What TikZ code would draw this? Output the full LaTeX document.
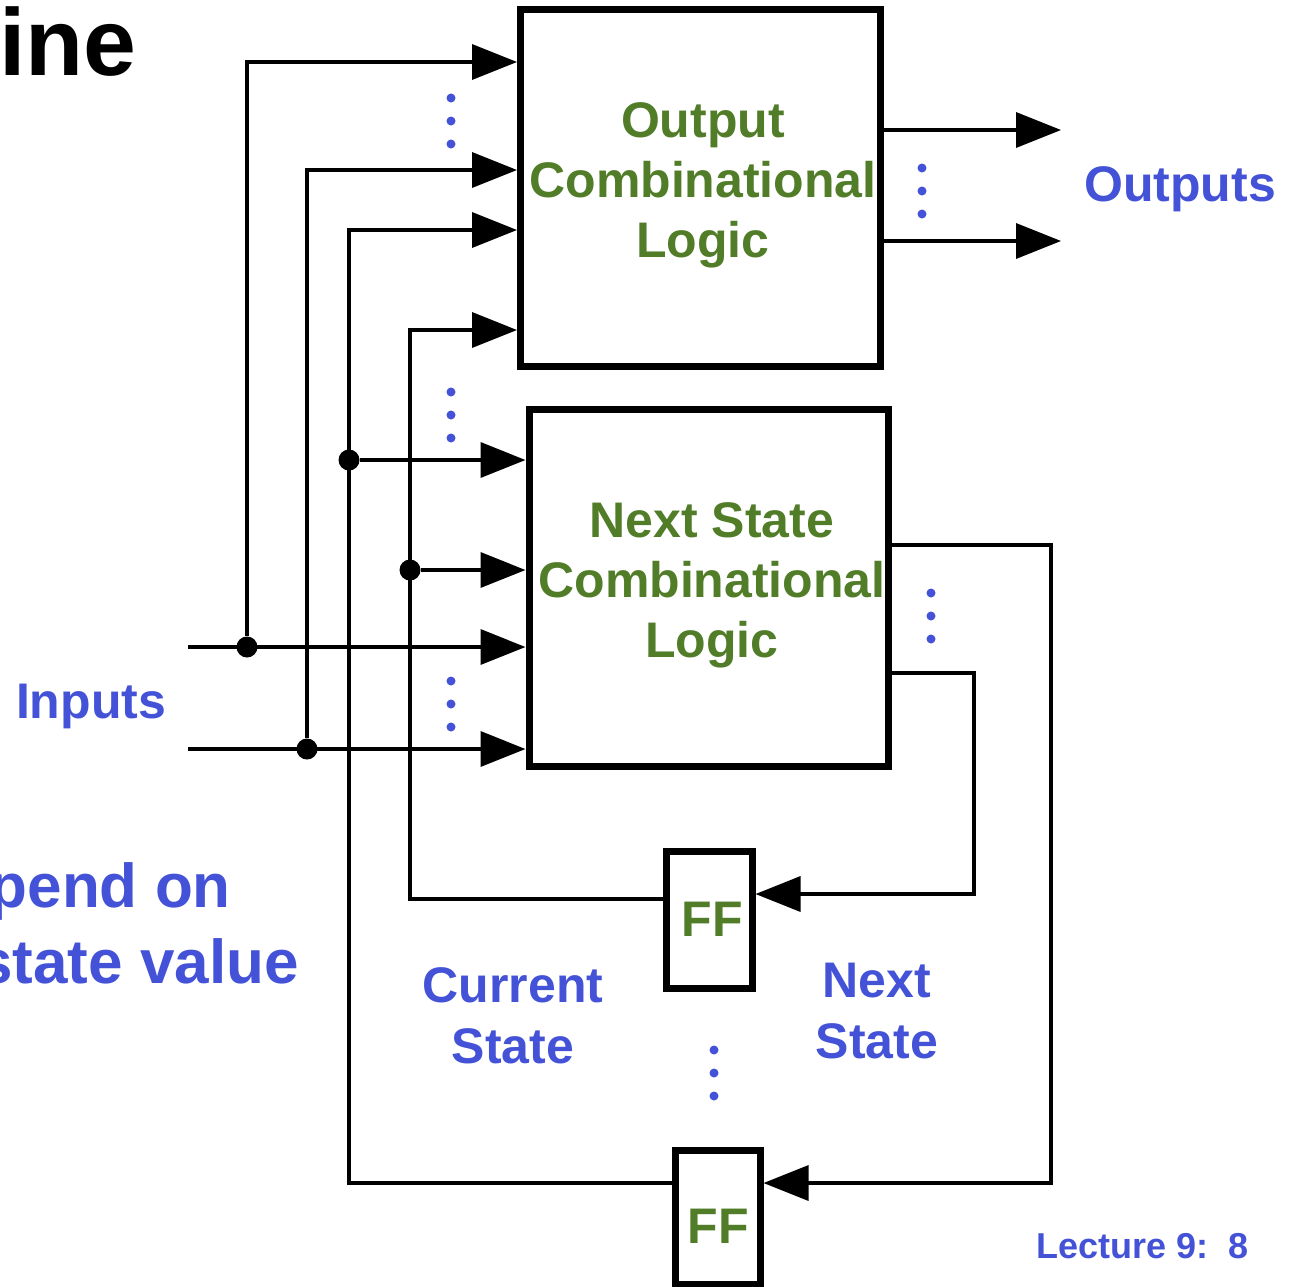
\documentclass[tikz,border=0pt]{standalone}
\usepackage{fontspec}
\setmainfont{Liberation Sans}
\usetikzlibrary{arrows.meta}
\definecolor{logicgreen}{RGB}{81,124,40}
\definecolor{labelblue}{RGB}{67,82,214}
% centred rows whose first baseline is the node's base
\newcommand\txtrows[1]{\begin{tabular}[t]{@{}c@{}}#1\end{tabular}}
\begin{document}
\begin{tikzpicture}[x=1pt,y=-1pt,
  wire/.style={line width=3.5pt,black},
  feed/.style={wire,-{Triangle[length=45pt,width=35pt]}},
  block/.style={draw,line width=7pt,inner sep=0pt},
  junction/.style={circle,fill=black,inner sep=0pt,minimum size=21pt},
  greenlbl/.style={inner sep=0pt,text=logicgreen,font=\bfseries\fontsize{50}{60}\selectfont},
  bluelbl/.style={inner sep=0pt,text=labelblue,font=\bfseries\fontsize{50}{61}\selectfont},
  bigblue/.style={inner sep=0pt,text=labelblue,font=\bfseries\fontsize{62}{76}\selectfont},
  titletxt/.style={inner sep=0pt,text=black,font=\bfseries\fontsize{95}{110}\selectfont},
  footer/.style={inner sep=0pt,text=labelblue,font=\bfseries\fontsize{36}{40}\selectfont},
  vellipsis/.pic={\fill[labelblue] (0,0) circle (4.5) (0,23) circle (4.5) (0,46) circle (4.5);}
]
\useasboundingbox (0,0) rectangle (1295,1286);

% blocks
\node[block,minimum width=360,minimum height=356.5] (ocl) at (700.5,187.75) {};
\node[block,minimum width=359,minimum height=357] (nscl) at (708.5,587.5) {};
\node[block,minimum width=86,minimum height=137] (ff1) at (709,919.5) {};
\node[block,minimum width=85,minimum height=134] (ff2) at (717.5,1217) {};

% block texts
\node[greenlbl,anchor=base] (ocltxt) at (703,137) {\txtrows{Output\\Combinational\\Logic}};
\node[greenlbl,anchor=base] (nstxt) at (712,537) {\txtrows{Next State\\Combinational\\Logic}};
\node[greenlbl,anchor=base] (ff1txt) at (712,936) {FF};
\node[greenlbl,anchor=base] (ff2txt) at (718,1243) {FF};

% wire ends and bends
\coordinate (in1) at (188,647);
\coordinate (in2) at (188,749);
\coordinate (out1) at (1061,130);
\coordinate (out2) at (1061,241);
\coordinate (bendA) at (410,330);
\coordinate (bendB) at (349,230);
\coordinate (bendC) at (974,894);
\coordinate (bendD) at (1051,1183);

% junctions
\node[junction] (j1) at (247,647) {};
\node[junction] (j2) at (307,749) {};
\node[junction] (j3) at (349,460) {};
\node[junction] (j4) at (410,570) {};

% primary inputs
\draw[feed] (in1) -- (nscl.west |- in1);
\draw[feed] (in2) -- (nscl.west |- in2);
\draw[feed] (j1) |- (ocl.west |- 0,62);
\draw[feed] (j2) |- (ocl.west |- 0,170);

% state feedback
\draw[feed] (ff1.west |- 0,899) -| (bendA) -- (ocl.west |- bendA);
\draw[feed] (ff2.west |- bendD) -| (bendB) -- (ocl.west |- bendB);
\draw[feed] (j3) -- (nscl.west |- j3);
\draw[feed] (j4) -- (nscl.west |- j4);

% next state into flip-flops
\draw[feed] (nscl.east |- 0,673) -| (bendC) -- (ff1.east |- bendC);
\draw[feed] (nscl.east |- 0,545) -| (bendD) -- (ff2.east |- bendD);

% outputs
\draw[feed] (ocl.east |- out1) -- (out1);
\draw[feed] (ocl.east |- out2) -- (out2);

% ellipses
\pic at (451,98) {vellipsis};
\pic at (922,168) {vellipsis};
\pic at (451,392) {vellipsis};
\pic at (931,593) {vellipsis};
\pic at (451,681) {vellipsis};
\pic at (714,1050) {vellipsis};

% labels
\node[bluelbl,anchor=base] (inlbl) at (91,718) {Inputs};
\node[bluelbl,anchor=base] (outlbl) at (1180,201) {Outputs};
\node[bluelbl,anchor=base] (cslbl) at (513,1002) {\txtrows{Current\\State}};
\node[bluelbl,anchor=base] (nslbl) at (877,997) {\txtrows{Next\\State}};
\node[bigblue,anchor=base east] (dep1) at (231,907) {pend on};
\node[bigblue,anchor=base east] (dep2) at (299,983) {state value};
\node[titletxt,anchor=base east] (ttl) at (137,75) {ine};
\node[footer,anchor=base east] (pg) at (1249,1258) {Lecture 9:\ \ 8};
\end{tikzpicture}
\end{document}
